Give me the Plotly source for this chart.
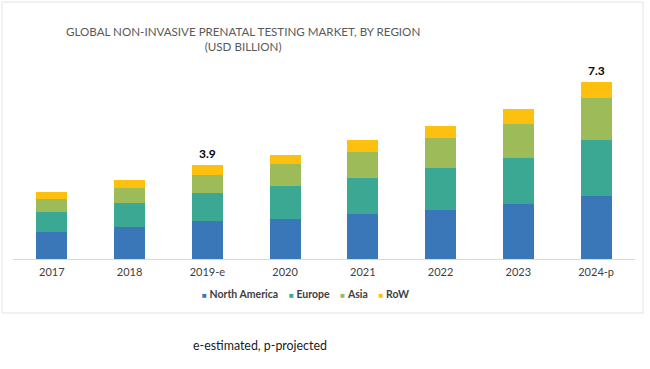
import plotly.graph_objects as go

years = ["2017", "2018", "2019-e", "2020", "2021", "2022", "2023", "2024-p"]
north_america = [1.10, 1.33, 1.55, 1.67, 1.86, 2.03, 2.25, 2.58]
europe = [0.85, 0.99, 1.16, 1.34, 1.50, 1.73, 1.93, 2.32]
asia = [0.53, 0.62, 0.75, 0.89, 1.05, 1.22, 1.40, 1.74]
row = [0.27, 0.33, 0.41, 0.40, 0.48, 0.51, 0.59, 0.66]
total_labels = {"2019-e": "3.9", "2024-p": "7.3"}

series = [
    ("North America", north_america, "#3a77b8"),
    ("Europe", europe, "#3aa892"),
    ("Asia", asia, "#9dbb59"),
    ("RoW", row, "#fdc00f"),
]

FONT = "Lato, sans-serif"

fig = go.Figure()
for name, vals, col in series:
    fig.add_trace(go.Bar(x=years, y=vals, name=name, marker=dict(color=col, line=dict(width=0)),
                         hoverinfo="skip"))

totals = [a + b + c + d for a, b, c, d in zip(north_america, europe, asia, row)]
for yr, tot in zip(years, totals):
    if yr in total_labels:
        fig.add_annotation(x=yr, y=tot, text="<b>" + total_labels[yr] + "</b>", showarrow=False,
                           yanchor="bottom", yshift=2, font=dict(size=12, color="#000000", family=FONT))

L, R, T, B = 13, 15, 65, 110
W, H = 650, 369
pw = W - L - R
ph = H - T - B

def px(x):
    return (x - L) / pw

def py(y):
    return (H - B - y) / ph

fig.add_shape(type="rect", xref="paper", yref="paper", x0=px(2), x1=px(643), y0=py(313), y1=py(2),
              line=dict(color="#e3e3e3", width=1), fillcolor="rgba(0,0,0,0)", layer="below")

fig.add_annotation(xref="paper", yref="paper", x=px(243), y=py(39), xanchor="center", yanchor="middle",
                   text="GLOBAL NON-INVASIVE PRENATAL TESTING MARKET, BY REGION<br>(USD BILLION)",
                   showarrow=False, font=dict(size=11.6, color="#595959", family=FONT), align="center")
fig.add_annotation(xref="paper", yref="paper", x=px(260), y=py(345), xanchor="center", yanchor="middle",
                   text="e-estimated, p-projected",
                   showarrow=False, font=dict(size=12.4, color="#1a1a1a", family=FONT))

legend_parts = []
for name, vals, col in series:
    legend_parts.append("<span style='color:%s;font-size:8px'>■</span> <b>%s</b>" % (col, name))
fig.add_annotation(xref="paper", yref="paper", x=px(305), y=py(294), xanchor="center", yanchor="middle",
                   text="&nbsp;&nbsp;&nbsp;&nbsp;".join(legend_parts),
                   showarrow=False, font=dict(size=10.5, color="#404040", family=FONT))

fig.update_layout(
    width=W, height=H,
    margin=dict(l=L, r=R, t=T, b=B),
    barmode="stack", bargap=0.6,
    plot_bgcolor="white", paper_bgcolor="white",
    showlegend=False,
    xaxis=dict(showline=True, linecolor="#d9d9d9", linewidth=1, ticks="", fixedrange=True,
               ticklabelstandoff=3,
               tickfont=dict(size=11, color="#404040", family=FONT)),
    yaxis=dict(range=[0, 8], visible=False, showgrid=False, zeroline=False, fixedrange=True),
)

fig.write_html("out.html", config={"displayModeBar": False},
               post_script="document.body.style.margin='0';")
